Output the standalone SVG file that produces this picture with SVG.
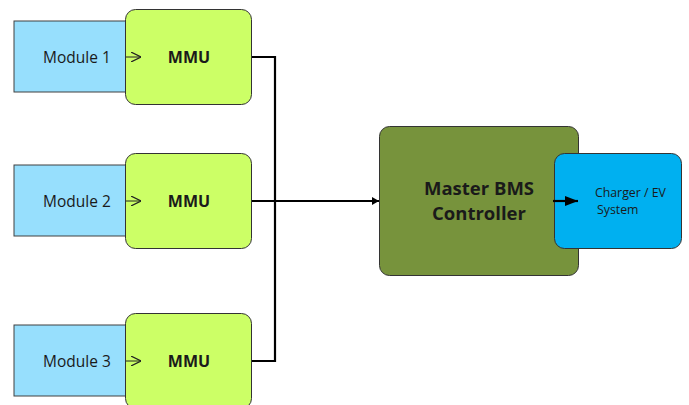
<svg xmlns="http://www.w3.org/2000/svg" width="689" height="405" viewBox="0 0 689 405">
  <style>
    .module { fill: #97DFFD; stroke: #404040; stroke-width: 1; }
    .mmu { fill: #CCFF66; stroke: #333333; stroke-width: 1; }
    .master { fill: #77933C; stroke: #333333; stroke-width: 1; }
    .charger { fill: #00B0F0; stroke: #333333; stroke-width: 1; }
    .lbl { font-family: "Open Sans", "DejaVu Sans", sans-serif; fill: #1a1a1a; }
    .mod-t { font-size: 15.5px; text-anchor: middle; }
    .mmu-t { font-size: 16px; font-weight: bold; text-anchor: middle; }
    .master-t { font-size: 18.5px; font-weight: bold; text-anchor: middle; }
    .ch-t { font-size: 12.3px; }
    .bus { fill: none; stroke: #000; stroke-width: 2.2; }
    .feed { fill: none; stroke: #222; stroke-width: 1; }
  </style>
  <defs>
    <marker id="open" viewBox="0 0 10 10" refX="10" refY="5" markerWidth="10" markerHeight="10" markerUnits="userSpaceOnUse" orient="auto">
      <path d="M0,0 L10,5 L0,10" fill="none" stroke="#222" stroke-width="1.2"/>
    </marker>
    <marker id="solid" viewBox="0 0 10 10" refX="10" refY="5" markerWidth="7" markerHeight="8" markerUnits="userSpaceOnUse" orient="auto" preserveAspectRatio="none">
      <path d="M0,0 L10,5 L0,10 Z" fill="#000"/>
    </marker>
    <marker id="solidL" viewBox="0 0 10 10" refX="10" refY="5" markerWidth="13" markerHeight="10" markerUnits="userSpaceOnUse" orient="auto" preserveAspectRatio="none">
      <path d="M0,0 L10,5 L0,10 Z" fill="#000"/>
    </marker>
  </defs>

  <!-- battery modules -->
  <g id="module1"><rect class="module" x="14" y="21" width="112" height="71"/><text class="lbl mod-t" x="77" y="63">Module 1</text></g>
  <g id="module2"><rect class="module" x="14" y="165" width="112" height="71"/><text class="lbl mod-t" x="77" y="207">Module 2</text></g>
  <g id="module3"><rect class="module" x="14" y="325" width="112" height="71"/><text class="lbl mod-t" x="77" y="367">Module 3</text></g>

  <!-- module management units -->
  <g id="mmu1"><rect class="mmu" x="125.5" y="9.5" width="126" height="95" rx="10"/><text class="lbl mmu-t" x="189" y="63">MMU</text></g>
  <g id="mmu2"><rect class="mmu" x="125.5" y="153.5" width="126" height="95" rx="10"/><text class="lbl mmu-t" x="189" y="207">MMU</text></g>
  <g id="mmu3"><rect class="mmu" x="125.5" y="313.5" width="126" height="95" rx="10"/><text class="lbl mmu-t" x="189" y="367">MMU</text></g>

  <!-- master controller -->
  <g id="master"><rect class="master" x="379.5" y="126.5" width="199" height="149" rx="10"/>
    <text class="lbl master-t" x="479" y="195">Master BMS</text>
    <text class="lbl master-t" x="479" y="220">Controller</text>
  </g>

  <!-- charger / vehicle -->
  <g id="charger"><rect class="charger" x="554.5" y="153.5" width="127" height="95" rx="10"/>
    <text class="lbl ch-t" x="595" y="197">Charger / EV</text>
    <text class="lbl ch-t" x="597" y="214">System</text>
  </g>

  <g id="connectors">
    <path class="feed" d="M126,57 L141,57" marker-end="url(#open)"/>
    <path class="feed" d="M126,201 L141,201" marker-end="url(#open)"/>
    <path class="feed" d="M126,361 L141,361" marker-end="url(#open)"/>
    <path class="bus" d="M252,57 L275,57 L275,361 L252,361"/>
    <path class="bus" d="M252,201 L379,201" marker-end="url(#solid)"/>
    <path class="bus" d="M553,201 L578,201" marker-end="url(#solidL)"/>
  </g>
</svg>
